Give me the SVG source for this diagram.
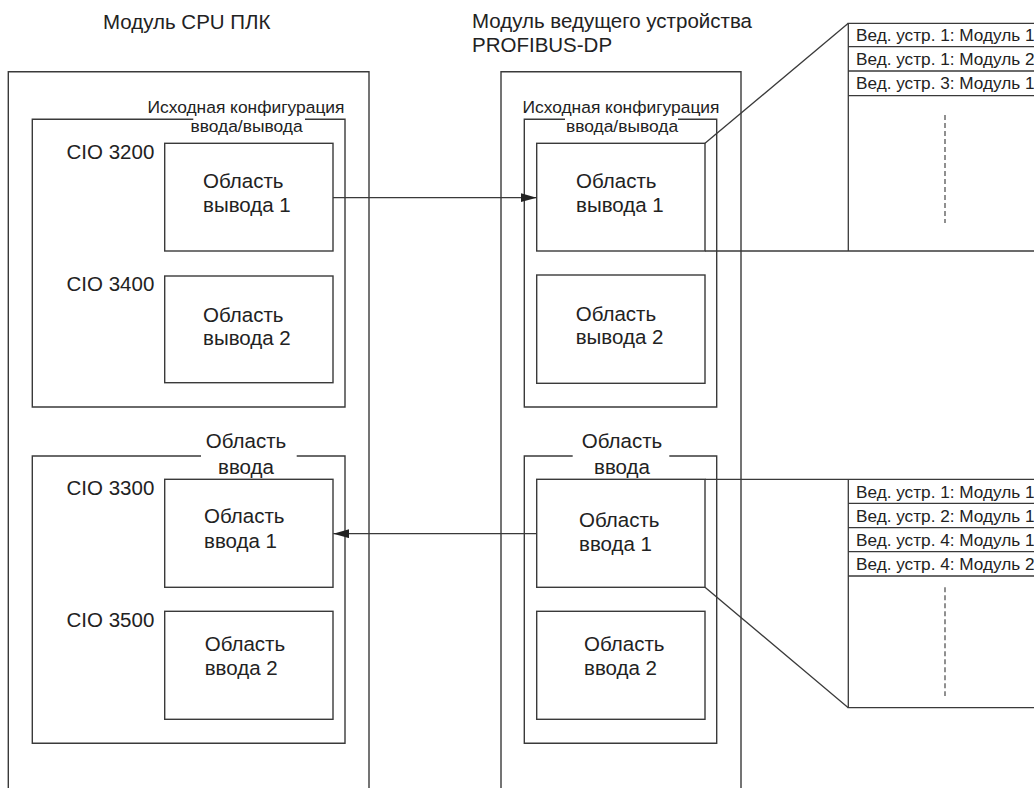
<svg xmlns="http://www.w3.org/2000/svg" width="1034" height="788" viewBox="0 0 1034 788">
<style>
  .bx { fill: none; stroke: #3a3a3a; stroke-width: 1.4; }
  .ln { fill: none; stroke: #3a3a3a; stroke-width: 1.3; }
  .dash { fill: none; stroke: #555; stroke-width: 1.3; stroke-dasharray: 5 3; }
  text { font-family: "Liberation Sans", Arial, sans-serif; fill: #222; }
  .t20 { font-size: 20.5px; }
  .t17 { font-size: 17.4px; }
  .tab { font-size: 17.2px; }
  .mid { text-anchor: middle; }
  .end { text-anchor: end; }
</style>
<defs>
  <marker id="arr" markerUnits="userSpaceOnUse" markerWidth="16" markerHeight="10" refX="16" refY="4.5" orient="auto">
    <path d="M0,0 L16,4.5 L0,9 z" fill="#222"/>
  </marker>
</defs>
<rect width="1034" height="788" fill="#fff"/>

<!-- PLC CPU module -->
<g id="cpu-module">
  <text class="t20" x="103" y="29.3">Модуль CPU ПЛК</text>
  <path class="bx" d="M8.3,790 V71.7 H369 V790"/>
</g>
<g id="cpu-io-config">
  <path class="bx" d="M193.3,119.3 H32.3 V407 H345 V119.3 H305"/>
  <text class="t17 mid" x="246" y="113.3">Исходная конфигурация</text>
  <text class="t17 mid" x="246.5" y="131.5">ввода/вывода</text>
</g>
<g id="cpu-out1">
  <text class="t20 end" x="154.3" y="159">CIO 3200</text>
  <rect class="bx" x="164.7" y="143.3" width="168.3" height="107.7"/>
  <text class="t20" x="203" y="188.3">Область</text>
  <text class="t20" x="203" y="212.3">вывода 1</text>
</g>
<g id="cpu-out2">
  <text class="t20 end" x="154.3" y="290.7">CIO 3400</text>
  <rect class="bx" x="164.7" y="276" width="168.3" height="106.7"/>
  <text class="t20" x="203" y="321.7">Область</text>
  <text class="t20" x="203" y="345">вывода 2</text>
</g>
<g id="cpu-input">
  <path class="bx" d="M201,456 H32.3 V743.3 H345 V456 H296.7"/>
  <text class="t20 mid" x="246" y="448.3">Область</text>
  <text class="t20 mid" x="246" y="474">ввода</text>
</g>
<g id="cpu-in1">
  <text class="t20 end" x="154.3" y="495">CIO 3300</text>
  <rect class="bx" x="164.7" y="479.3" width="168.3" height="108"/>
  <text class="t20" x="204" y="523.3">Область</text>
  <text class="t20" x="204" y="547.7">ввода 1</text>
</g>
<g id="cpu-in2">
  <text class="t20 end" x="154.3" y="626.7">CIO 3500</text>
  <rect class="bx" x="164.7" y="611.3" width="168.3" height="108"/>
  <text class="t20" x="204.7" y="650.7">Область</text>
  <text class="t20" x="204.7" y="675">ввода 2</text>
</g>

<!-- PROFIBUS-DP master module -->
<g id="dp-module">
  <text class="t20" x="472" y="28.3">Модуль ведущего устройства</text>
  <text class="t20" x="472" y="51.7">PROFIBUS-DP</text>
  <path class="bx" d="M501,790 V71.7 H741 V790"/>
</g>
<g id="dp-io-config">
  <path class="bx" d="M565,119.3 H524.3 V407 H716.7 V119.3 H678"/>
  <text class="t17 mid" x="621" y="113.3">Исходная конфигурация</text>
  <text class="t17 mid" x="622" y="131.5">ввода/вывода</text>
</g>
<g id="dp-out1">
  <rect class="bx" x="536.7" y="143.3" width="168.3" height="107.7"/>
  <text class="t20" x="576" y="188.3">Область</text>
  <text class="t20" x="576" y="212.3">вывода 1</text>
</g>
<g id="dp-out2">
  <rect class="bx" x="536.7" y="275" width="168.3" height="108.3"/>
  <text class="t20" x="575.7" y="321">Область</text>
  <text class="t20" x="575.7" y="344.3">вывода 2</text>
</g>
<g id="dp-input">
  <path class="bx" d="M572.7,456 H524.3 V743.3 H716.7 V456 H669.3"/>
  <text class="t20 mid" x="622" y="448.3">Область</text>
  <text class="t20 mid" x="622" y="474">ввода</text>
</g>
<g id="dp-in1">
  <rect class="bx" x="536.7" y="479.3" width="168.3" height="108"/>
  <text class="t20" x="579" y="526.7">Область</text>
  <text class="t20" x="579" y="550.7">ввода 1</text>
</g>
<g id="dp-in2">
  <rect class="bx" x="536.7" y="611.3" width="168.3" height="108"/>
  <text class="t20" x="584" y="650.7">Область</text>
  <text class="t20" x="584" y="675">ввода 2</text>
</g>

<!-- Output data table -->
<g id="out-table">
  <path class="ln" d="M848.3,251 V23.3 H1034 M848.3,46.7 H1034 M848.3,71 H1034 M848.3,95.7 H1034"/>
  <text class="tab" x="856" y="40.7">Вед. устр. 1: Модуль 1</text>
  <text class="tab" x="856" y="65">Вед. устр. 1: Модуль 2</text>
  <text class="tab" x="856" y="89.3">Вед. устр. 3: Модуль 1</text>
  <line class="dash" x1="945" y1="115" x2="945" y2="223"/>
</g>

<!-- Input data table -->
<g id="in-table">
  <path class="ln" d="M848.3,479.3 V707.7 H1034 M848.3,503.3 H1034 M848.3,527.7 H1034 M848.3,551.7 H1034 M848.3,576 H1034"/>
  <text class="tab" x="856" y="497.7">Вед. устр. 1: Модуль 1</text>
  <text class="tab" x="856" y="521.7">Вед. устр. 2: Модуль 1</text>
  <text class="tab" x="856" y="546">Вед. устр. 4: Модуль 1</text>
  <text class="tab" x="856" y="570">Вед. устр. 4: Модуль 2</text>
  <line class="dash" x1="945" y1="587.3" x2="945" y2="696"/>
</g>

<!-- Connectors -->
<g id="connectors">
  <line class="ln" x1="333" y1="197.7" x2="536.7" y2="197.7" marker-end="url(#arr)"/>
  <line class="ln" x1="536.7" y1="533.7" x2="333.3" y2="533.7" marker-end="url(#arr)"/>
  <line class="ln" x1="705" y1="143.3" x2="848.3" y2="23.3"/>
  <line class="ln" x1="705" y1="251" x2="1034" y2="251"/>
  <line class="ln" x1="705" y1="479.3" x2="1034" y2="479.3"/>
  <line class="ln" x1="705" y1="587.3" x2="848.3" y2="707.7"/>
</g>
</svg>
